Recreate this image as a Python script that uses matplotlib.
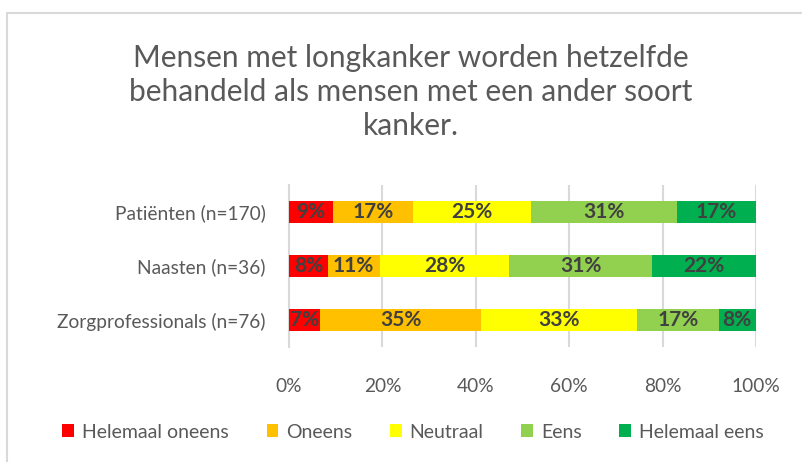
import numpy as np
import matplotlib
matplotlib.use('Agg')
import matplotlib.pyplot as plt
from matplotlib.patches import Rectangle

# data (percentages)
groups = ['Patiënten (n=170)', 'Naasten (n=36)', 'Zorgprofessionals (n=76)']
answers = ['Helemaal oneens', 'Oneens', 'Neutraal', 'Eens', 'Helemaal eens']
helemaal_oneens = [9.4, 8.3, 6.6]
oneens = [17.1, 11.1, 34.6]
neutraal = [25.3, 27.8, 33.4]
eens = [31.2, 30.6, 17.4]
helemaal_eens = [17.0, 22.2, 7.9]
colors = ['#FF0000', '#FFC000', '#FFFF00', '#92D050', '#00B050']
xticks = [0, 20, 40, 60, 80, 100]

plt.rcParams['font.family'] = ['Lato', 'DejaVu Sans']

fig = plt.figure(figsize=(8.02, 4.62), dpi=100)
fig.patches.append(Rectangle((7 / 802, -0.1), 1.2, 1 - 13 / 462 + 0.1, transform=fig.transFigure,
                             fill=False, edgecolor='#D9D9D9', linewidth=1.5))

ax = fig.add_axes([289 / 802, 1 - 347 / 462, (756 - 289) / 802, (347 - 185) / 462])

series = [helemaal_oneens, oneens, neutraal, eens, helemaal_eens]
y = np.arange(len(groups))
left = np.zeros(len(groups))
for name, vals, c in zip(answers, series, colors):
    vals = np.array(vals)
    ax.barh(y, vals, left=left, height=0.41, color=c, label=name, zorder=3)
    for yi, l, v in zip(y, left, vals):
        ax.text(l + v / 2, yi, f'{v:.0f}%', ha='center', va='center',
                fontsize=15, fontweight='bold', color='#404040', zorder=4)
    left = left + vals

ax.set_xlim(0, 100)
ax.set_ylim(len(groups) - 0.5, -0.5)
ax.set_yticks(y)
ax.set_yticklabels(groups)
ax.set_xticks(xticks)
ax.set_xticklabels([f'{t}%' for t in xticks])
ax.grid(axis='x', color='#D9D9D9', linewidth=1.5, zorder=0)
for s in ['top', 'right', 'bottom']:
    ax.spines[s].set_visible(False)
ax.spines['left'].set_color('#D9D9D9')
ax.spines['left'].set_linewidth(1.5)
ax.tick_params(axis='both', length=0, labelsize=13.8, labelcolor='#595959')
ax.tick_params(axis='x', pad=22)
ax.tick_params(axis='y', pad=17)

fig.text(0.512, 1 - 92 / 462,
         'Mensen met longkanker worden hetzelfde\nbehandeld als mensen met een ander soort\nkanker.',
         ha='center', va='center', fontsize=21.5, color='#595959', linespacing=1.27)

fig.legend(loc='center', bbox_to_anchor=(0.515, 1 - 432 / 462), ncol=5, frameon=False,
           fontsize=14, labelcolor='#595959', handlelength=0.6, handleheight=0.6,
           handletextpad=0.4, columnspacing=1.95)

fig.savefig('out.png', dpi=100)
